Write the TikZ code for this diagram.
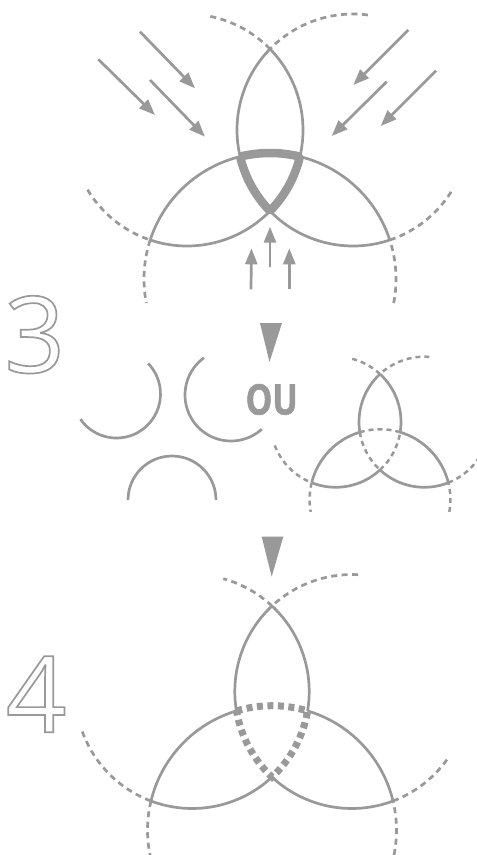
\documentclass[tikz,border=0pt]{standalone}
\usepackage{fontspec}
\setmainfont{Open Sans}
\usetikzlibrary{arrows.meta}
\definecolor{gr}{RGB}{153,153,153}
\newcommand{\cirarc}[5][]{\draw[#1] ([shift={(#3:#5)}]#2) arc[start angle=#3,end angle=#4,radius=#5];}
\newcommand{\outlinetext}[1]{\special{pdf:literal direct 1 Tr 1.7 w}#1\special{pdf:literal direct 0 Tr}}
\begin{document}
\begin{tikzpicture}[x=1pt,y=1pt,
  ln/.style={draw=gr,line width=2.7pt},
  dsh/.style={draw=gr,line width=2.7pt,dash pattern=on 6pt off 4.5pt},
  dshs/.style={draw=gr,line width=2.5pt,dash pattern=on 5pt off 4pt},
  bandline/.style={draw=gr,line width=8.5pt,line join=bevel},
  banddash/.style={draw=gr,line width=7pt,dash pattern=on 6pt off 4.5pt},
  arr/.style={draw=gr,line width=2.7pt,-{Triangle[length=16pt,width=12pt]}},
  outl/.style={anchor=base,inner sep=0pt,text=gr,font=\fontsize{106}{106}\selectfont},
]
\useasboundingbox (0,0) rectangle (477,-855);
% ---------- top triquetra ----------
\coordinate (tUL) at (187,-130);
\coordinate (tUR) at (353,-130);
\coordinate (tB) at (270,-279);
\cirarc[ln]{tUL}{-108.5}{-44.31}{116}
\cirarc[ln]{tUL}{-13.26}{44.31}{116}
\cirarc[ln]{tUR}{135.69}{193.26}{116}
\cirarc[ln]{tUR}{224.31}{288.5}{116}
\cirarc[ln]{tB}{18.03}{76.27}{126}
\cirarc[ln]{tB}{103.73}{161.97}{126}
\draw[bandline] ([shift={(103.73:126)}]tB) arc[start angle=103.73,end angle=76.27,radius=126]
  arc[start angle=-13.26,end angle=-44.31,radius=116]
  arc[start angle=224.31,end angle=193.26,radius=116] -- cycle;
\cirarc[dsh]{tUL}{44.31}{78.6}{116}
\cirarc[dsh]{tUL}{-149}{-108.5}{116}
\cirarc[dsh]{tUR}{82.6}{135.69}{116}
\cirarc[dsh]{tUR}{288.5}{330}{116}
\cirarc[dsh]{tB}{161.97}{191}{126}
\cirarc[dsh]{tB}{-11}{18.03}{126}
% arrows
\coordinate (a1s) at (140,-31.7);  \coordinate (a1e) at (195,-88.3);
\coordinate (a2s) at (98.3,-59.3); \coordinate (a2e) at (155,-115);
\coordinate (a3s) at (150,-80);    \coordinate (a3e) at (205,-136.7);
\coordinate (a4s) at (408.3,-30);  \coordinate (a4e) at (353.3,-85);
\coordinate (a5s) at (436,-70.7);  \coordinate (a5e) at (380.7,-126);
\coordinate (a6s) at (386.7,-81.7);\coordinate (a6e) at (331.7,-136);
\coordinate (a7s) at (270,-266.7); \coordinate (a7e) at (270,-226.7);
\coordinate (a8s) at (251,-289.3); \coordinate (a8e) at (251.5,-248.3);
\coordinate (a9s) at (289.3,-289.3); \coordinate (a9e) at (289.3,-248.3);
\foreach \i in {1,...,9} {\draw[arr] (a\i s) -- (a\i e);}
% ---------- step labels ----------
\node[outl] (d3) at (34.7,-372.5) {\outlinetext{3}};
\node[outl] (d4) at (36.3,-732.3) {\outlinetext{4}};
% ---------- down triangles ----------
\fill[gr] (260,-323) -- (282,-323) -- (269.5,-362) -- cycle;
\fill[gr] (261.7,-536.7) -- (283.3,-536.7) -- (271.7,-576.7) -- cycle;
% ---------- separate arcs ----------
\coordinate (s1) at (116.5,-394);
\coordinate (s2) at (231,-395);
\coordinate (s3) at (172,-500);
\cirarc[ln]{s1}{-145}{44}{44}
\cirarc[ln]{s2}{126}{312}{46}
\cirarc[ln]{s3}{0}{180}{44}
\node[anchor=base,inner sep=0pt,text=gr,font=\bfseries\fontsize{42}{42}\selectfont\addfontfeatures{FakeBold=1.5},xscale=0.8] (ou) at (271.7,-414.5) {OU};
% ---------- small triquetra ----------
\coordinate (mUL) at (335.7,-422);
\coordinate (mUR) at (424.3,-422);
\coordinate (mB) at (380,-499.65);
\cirarc[ln]{mUL}{-111.6}{-47.29}{65.3}
\cirarc[ln]{mUL}{-9.0}{47.29}{65.3}
\cirarc[ln]{mUR}{132.71}{189.0}{65.3}
\cirarc[ln]{mUR}{227.29}{291.6}{65.3}
\cirarc[ln]{mB}{13.92}{73.33}{70.4}
\cirarc[ln]{mB}{106.67}{166.08}{70.4}
\cirarc[dshs]{mUL}{-47.29}{-9.0}{65.3}
\cirarc[dshs]{mUR}{189.0}{227.29}{65.3}
\cirarc[dshs]{mB}{73.33}{106.67}{70.4}
\cirarc[dshs]{mUL}{47.29}{75.5}{65.3}
\cirarc[dshs]{mUL}{-159}{-111.6}{65.3}
\cirarc[dshs]{mUR}{85.5}{132.71}{65.3}
\cirarc[dshs]{mUR}{291.6}{327.3}{65.3}
\cirarc[dshs]{mB}{166.08}{190}{70.4}
\cirarc[dshs]{mB}{-10}{13.92}{70.4}
% ---------- bottom triquetra ----------
\coordinate (bUL) at (192.2,-691.5);
\coordinate (bUR) at (351.8,-691.5);
\coordinate (bB) at (272,-830.2);
\cirarc[ln]{bUL}{-110.63}{-46.97}{117}
\cirarc[ln]{bUL}{-9.54}{46.97}{117}
\cirarc[ln]{bUR}{133.03}{189.54}{117}
\cirarc[ln]{bUR}{226.97}{290.63}{117}
\cirarc[ln]{bB}{13.56}{73.39}{124.5}
\cirarc[ln]{bB}{106.61}{166.44}{124.5}
\draw[banddash] ([shift={(106.61:124.5)}]bB) arc[start angle=106.61,end angle=73.39,radius=124.5]
  arc[start angle=-9.54,end angle=-46.97,radius=117]
  arc[start angle=226.97,end angle=189.54,radius=117] -- cycle;
\cirarc[dsh]{bUL}{46.97}{74.6}{117}
\cirarc[dsh]{bUL}{-160}{-110.63}{117}
\cirarc[dsh]{bUR}{86.9}{133.03}{117}
\cirarc[dsh]{bUR}{290.63}{326}{117}
\cirarc[dsh]{bB}{166.44}{191.5}{124.5}
\cirarc[dsh]{bB}{-11.5}{13.56}{124.5}
\end{tikzpicture}
\end{document}
